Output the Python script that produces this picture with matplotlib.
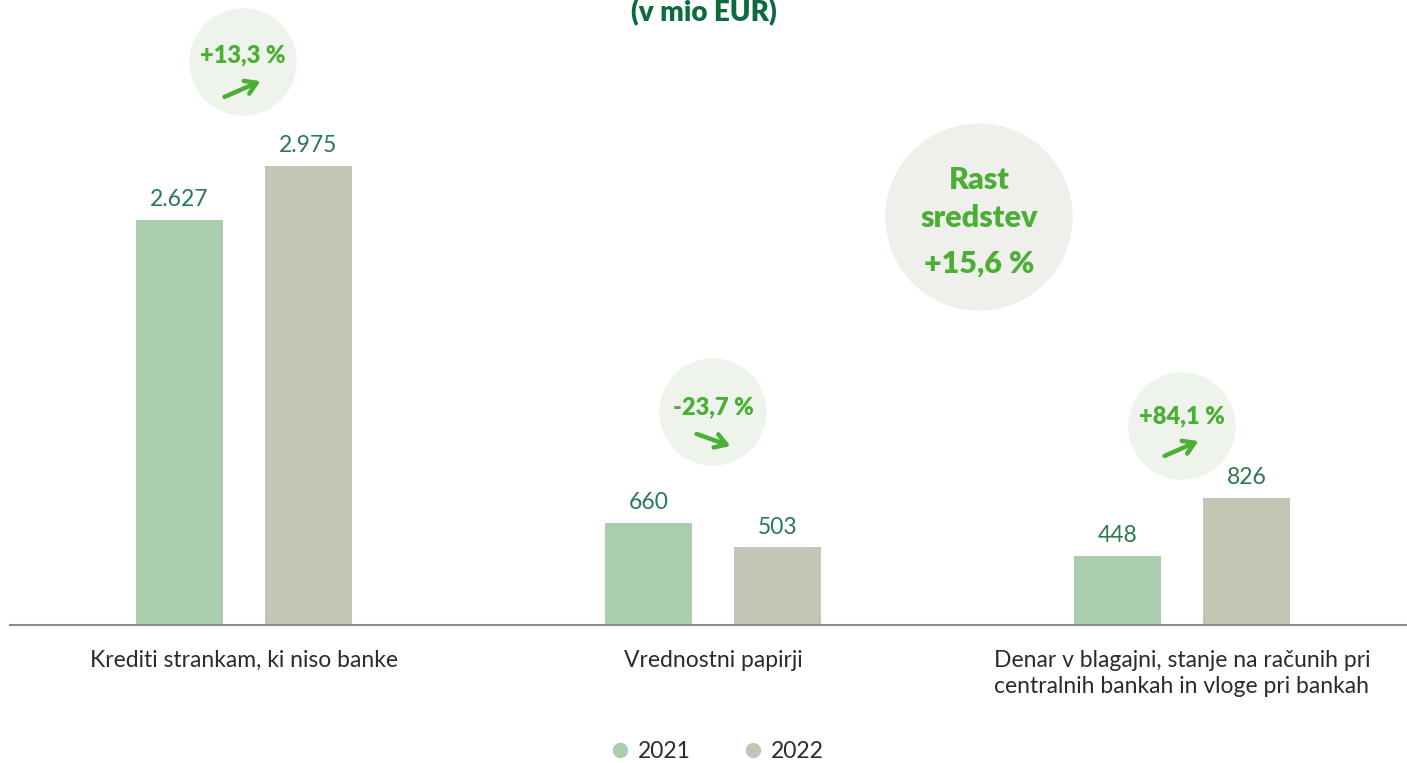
import matplotlib.pyplot as plt
from matplotlib.patches import Ellipse, FancyArrowPatch
from matplotlib.lines import Line2D
import numpy as np

categories = ['Krediti strankam, ki niso banke',
              'Vrednostni papirji',
              'Denar v blagajni, stanje na računih pri\ncentralnih bankah in vloge pri bankah']
values_2021 = [2627, 660, 448]
values_2022 = [2975, 503, 826]
labels_2021 = ['2.627', '660', '448']
labels_2022 = ['2.975', '503', '826']
changes = ['+13,3 %', '-23,7 %', '+84,1 %']
series = ['2021', '2022']

c2021 = '#a9cdad'
c2022 = '#c2c6b4'
green = '#4caf35'
dark_green = '#0b6b3c'
num_green = '#2a7a50'

W, H = 1407, 763
fig = plt.figure(figsize=(W / 100, H / 100), dpi=100)
ax = fig.add_axes([10 / W, (H - 625) / H, 1397 / W, 625 / H])
ax.set_facecolor('none')

x = np.arange(len(categories))
bw = 0.1855
off = 0.1375
b1 = ax.bar(x - off, values_2021, bw, color=c2021)
b2 = ax.bar(x + off, values_2022, bw, color=c2022)

for bars, labs in [(b1, labels_2021), (b2, labels_2022)]:
    for b, lab in zip(bars, labs):
        ax.annotate(lab, (b.get_x() + b.get_width() / 2, b.get_height()),
                    xytext=(0, 7), textcoords='offset points', ha='center', va='bottom',
                    fontsize=16.5, color=num_green, family='Lato')

ax.set_xlim(-0.499, 2.48)
ax.set_ylim(0, 4050)
for s in ['top', 'right', 'left']:
    ax.spines[s].set_visible(False)
ax.spines['bottom'].set_color('#8a8a8a')
ax.spines['bottom'].set_linewidth(1.5)
ax.set_yticks([])
ax.set_xticks(x)
ax.set_xticklabels(categories, fontsize=16.5, color='#2b2b2b', family='Lato',
                   linespacing=1.3, va='top')
ax.tick_params(axis='x', length=0, pad=18)


def circle(cx, cy, r, color):
    fig.add_artist(Ellipse((cx / W, 1 - cy / H), 2 * r / W, 2 * r / H,
                           transform=fig.transFigure, color=color, zorder=-1))


def arrow(x0, y0, x1, y1):
    fig.add_artist(FancyArrowPatch((x0 / W, 1 - y0 / H), (x1 / W, 1 - y1 / H),
                                   transform=fig.transFigure,
                                   arrowstyle='->,head_length=8,head_width=5',
                                   color=green, lw=3.2, capstyle='round', joinstyle='round'))


# small change bubbles
circle(243, 62, 53, '#eef4ec')
fig.text(243 / W, 1 - 55 / H, changes[0], ha='center', va='center', fontsize=17,
         color=green, family='Lato', fontweight='heavy')
arrow(222, 98, 263, 80)

circle(713, 412, 53, '#eef4ec')
fig.text(713 / W, 1 - 407 / H, changes[1], ha='center', va='center', fontsize=17,
         color=green, family='Lato', fontweight='heavy')
arrow(694, 433, 733, 447)

circle(1182, 426, 53, '#eef4ec')
fig.text(1182 / W, 1 - 416 / H, changes[2], ha='center', va='center', fontsize=17,
         color=green, family='Lato', fontweight='heavy')
arrow(1162, 457, 1201, 440)

# total growth bubble
circle(979, 217, 93, '#efefeb')
for txt, yy in [('Rast', 180), ('sredstev', 218), ('+15,6 %', 264)]:
    fig.text(979 / W, 1 - yy / H, txt, ha='center', va='center', fontsize=22,
             color=green, family='Lato', fontweight='heavy')

fig.text(704 / W, 1 - 13 / H, '(v mio EUR)', ha='center', va='center', fontsize=20,
         color=dark_green, family='Lato', fontweight='heavy')

handles = [Line2D([], [], marker='o', ls='', markersize=10, color=c2021),
           Line2D([], [], marker='o', ls='', markersize=10, color=c2022)]
leg = fig.legend(handles, series, loc='center', bbox_to_anchor=(716 / W, 1 - 752 / H), ncol=2,
                 frameon=False, handletextpad=0.3, columnspacing=2.2, handlelength=1.0,
                 prop={'family': 'Lato', 'size': 16.5})
for t in leg.get_texts():
    t.set_color('#2b2b2b')

fig.savefig('out.png', dpi=100)
